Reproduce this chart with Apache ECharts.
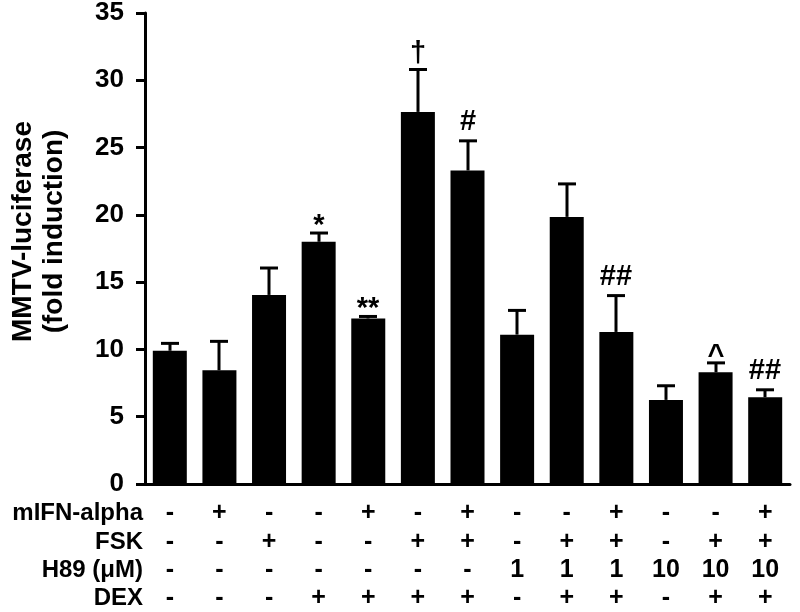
<!DOCTYPE html>
<html>
<head>
<meta charset="utf-8">
<script src="https://cdn.jsdelivr.net/npm/echarts@6/dist/echarts.min.js"></script>
<style>html,body{margin:0;padding:0;background:#fff}#c{width:800px;height:612px}</style>
</head>
<body>
<div id="c"></div>
<script>
// ---- data ----
var groups = ['1','2','3','4','5','6','7','8','9','10','11','12','13'];
var means  = [9.9, 8.45, 14.05, 18.0, 12.3, 27.65, 23.3, 11.1, 19.85, 11.3, 6.25, 8.3, 6.45];
var sems   = [0.55, 2.15, 2.0, 0.65, 0.15, 3.15, 2.2, 1.8, 2.45, 2.7, 1.05, 0.7, 0.55];
var marks  = ['', '', '', '*', '**', '\u2020', '#', '', '', '##', '', '^', '##'];
var rowNames = ['mIFN-alpha', 'FSK', 'H89 (\u03bcM)', 'DEX'];
var rowIFN = ['-','+','-','-','+','-','+','-','-','+','-','-','+'];
var rowFSK = ['-','-','+','-','-','+','+','-','+','+','-','+','+'];
var rowH89 = ['-','-','-','-','-','-','-','1','1','1','10','10','10'];
var rowDEX = ['-','-','-','+','+','+','+','-','+','+','-','+','+'];
var yTicks = {min: 0, max: 35, interval: 5};

// ---- chart ----
var FONT = "'Liberation Sans', Arial, Helvetica, sans-serif";
var chart = echarts.init(document.getElementById('c'), null, {renderer: 'canvas'});
var rows = [rowIFN, rowFSK, rowH89, rowDEX];
var rowOffsets = [29, 58, 86, 114];

var xAxes = [{
  type: 'category', data: groups, gridIndex: 0, position: 'bottom',
  axisLine: {show: true, lineStyle: {color: '#000', width: 3}},
  axisTick: {show: false}, axisLabel: {show: false}, splitLine: {show: false}
}];
rows.forEach(function (row, r) {
  xAxes.push({
    type: 'category', data: groups, gridIndex: 0, position: 'bottom',
    offset: rowOffsets[r],
    axisLine: {show: false}, axisTick: {show: false}, splitLine: {show: false},
    axisLabel: {
      show: true, interval: 0, margin: 0, verticalAlign: 'middle',
      fontFamily: FONT, fontWeight: 'bold', fontSize: 25, color: '#000',
      formatter: function (v, idx) { return row[idx]; }
    },
    name: rowNames[r], nameLocation: 'start', nameGap: 2,
    nameTextStyle: {fontFamily: FONT, fontWeight: 'bold', fontSize: 24, color: '#000', align: 'right', verticalAlign: 'middle'}
  });
});

var markDy = {'*': 11, '**': 11, '^': 12, '\u2020': 3};

var option = {
  animation: false,
  backgroundColor: '#fff',
  grid: {left: 140, right: 10, top: 13, bottom: 128, containLabel: false},
  xAxis: xAxes,
  yAxis: {
    type: 'value', min: yTicks.min, max: yTicks.max, interval: yTicks.interval,
    axisLine: {show: true, lineStyle: {color: '#000', width: 3}},
    axisTick: {show: true, inside: false, length: 9, lineStyle: {color: '#000', width: 3}},
    splitLine: {show: false},
    axisLabel: {margin: 21, fontFamily: FONT, fontWeight: 'bold', fontSize: 26, color: '#000'},
    name: 'MMTV-luciferase\n(fold induction)', nameLocation: 'middle', nameRotate: 90, nameGap: 75,
    nameTextStyle: {fontFamily: FONT, fontWeight: 'bold', fontSize: 28, lineHeight: 31, color: '#000', padding: [0, 0, 0, 34]}
  },
  series: [{
    type: 'bar', xAxisIndex: 0, yAxisIndex: 0, data: means, barWidth: 34,
    itemStyle: {color: '#000'}
  }, {
    type: 'custom', xAxisIndex: 0, yAxisIndex: 0, z: 3,
    data: means.map(function (m, i) { return [i, m, m + sems[i]]; }),
    renderItem: function (params, api) {
      var i = api.value(0);
      var b = api.coord([i, api.value(1)]);
      var t = api.coord([i, api.value(2)]);
      var x = Math.round(b[0]);
      var mk = marks[params.dataIndex];
      var children = [
        {type: 'line', shape: {x1: x, y1: b[1], x2: x, y2: t[1]}, style: {stroke: '#000', lineWidth: 3}},
        {type: 'line', shape: {x1: x - 9, y1: t[1], x2: x + 9, y2: t[1]}, style: {stroke: '#000', lineWidth: 3}}
      ];
      if (mk) {
        children.push({type: 'text', x: x, y: t[1] - 4 + (markDy[mk] || 0),
          style: {text: mk, fill: '#000', font: 'bold 29px ' + FONT, align: 'center', verticalAlign: 'bottom'}});
      }
      return {type: 'group', children: children};
    }
  }]
};
chart.setOption(option);
</script>
</body>
</html>
